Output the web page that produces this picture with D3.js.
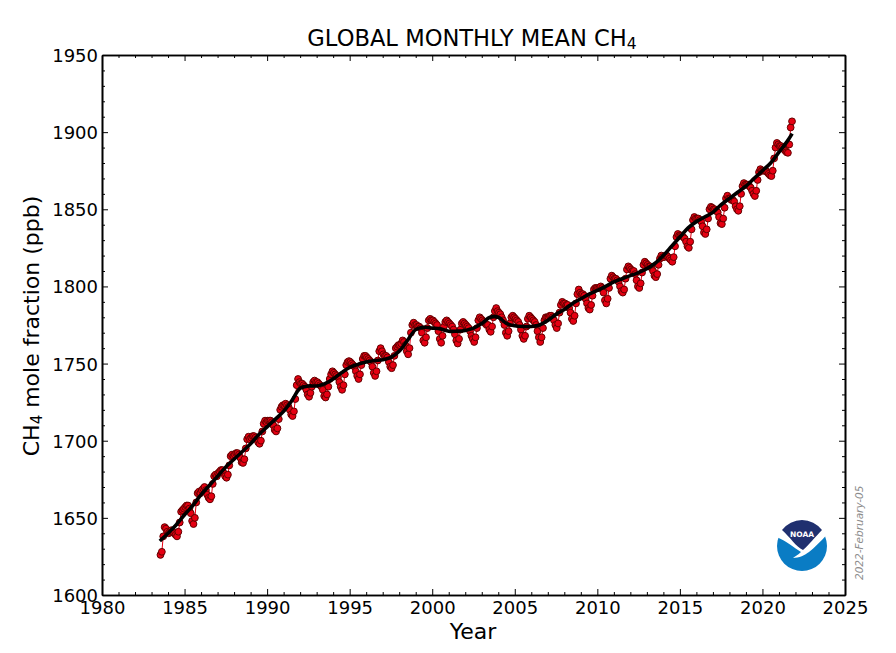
<!DOCTYPE html>
<html>
<head>
<meta charset="utf-8">
<script src="https://cdn.jsdelivr.net/npm/d3@7"></script>
<style>
  html, body { margin: 0; padding: 0; background: #fff; }
  text { font-family: "DejaVu Sans", sans-serif; fill: #000; }
</style>
</head>
<body>
<div id="chart"></div>
<script>
// Monthly values (ppb). 1983 starts in July, 2021 ends in October.
const m1983 = [1626,1628,1638,1644,1643,1641];
const m1984 = [1640,1641,1642,1641,1640,1639,1638,1641,1647,1654,1655,1656];
const m1985 = [1657,1658,1658,1656,1653,1648,1646,1650,1660,1666,1667,1666];
const m1986 = [1668,1669,1670,1668,1665,1663,1662,1664,1672,1677,1678,1677];
const m1987 = [1679,1680,1681,1681,1679,1677,1676,1678,1684,1690,1691,1690];
const m1988 = [1691,1692,1692,1691,1689,1686,1685.6,1688,1695,1701,1702.6,1701];
const m1989 = [1702,1703,1703,1702,1701,1699,1698,1700,1706,1711,1713,1712];
const m1990 = [1713,1713,1713,1712,1710,1707,1706,1708,1714,1720,1722,1723];
const m1991 = [1723,1724,1723,1722,1720,1717,1716,1719,1727,1736,1740,1738];
const m1992 = [1737,1737,1736,1735,1733,1730,1728.5,1731,1735,1738,1739,1738];
const m1993 = [1738,1737,1736,1735,1733,1729,1728,1730,1735,1740,1743,1745];
const m1994 = [1744,1743,1742,1741,1738,1735,1733,1736,1743,1749,1751,1751.6];
const m1995 = [1751,1750,1749,1748,1745,1742,1740,1743,1749,1753,1755,1755];
const m1996 = [1754,1753,1752,1751,1748,1744,1742,1745,1752,1758,1760,1758];
const m1997 = [1756,1755,1755,1754,1751,1748,1747,1749,1755,1760,1761,1762];
const m1998 = [1762,1763,1765,1764,1762,1758,1756,1760,1770,1775,1776.5,1775];
const m1999 = [1775,1774,1774,1773,1770,1765,1763.5,1767,1773,1778,1779,1778];
const m2000 = [1778,1777,1776,1775,1771,1766,1763.5,1768,1774,1777,1778,1777];
const m2001 = [1776,1775,1774,1772,1769,1765,1763,1766,1772,1776,1777,1776];
const m2002 = [1775,1774,1773,1771,1768,1766,1764,1767,1773,1778,1780,1779];
const m2003 = [1778,1777,1776,1775,1775,1772,1770.6,1774,1780,1784,1786,1784];
const m2004 = [1783,1782,1780,1778,1775,1770,1768,1771,1776,1780,1781,1780];
const m2005 = [1779,1778,1777,1775,1772,1768,1766,1768,1774,1779,1781,1780];
const m2006 = [1779,1778,1777,1775,1771,1767,1764,1767,1773,1778,1780,1780];
const m2007 = [1780,1781,1781,1780,1778,1775,1773,1776,1783,1788,1790,1789];
const m2008 = [1789,1788,1788,1786,1783,1779,1777.6,1781,1789,1795,1798,1796];
const m2009 = [1795,1795,1794,1792,1789,1786,1785,1788,1794,1798,1799,1799];
const m2010 = [1799,1799,1800,1799,1796,1791,1789,1792,1799,1805,1807,1806];
const m2011 = [1805,1805,1804,1803,1800,1797,1796,1798,1805,1811,1813,1812];
const m2012 = [1811,1810,1810,1808,1804,1800,1799,1802,1809,1814,1816,1815];
const m2013 = [1814,1813,1813,1812,1810,1807,1806,1808,1814,1818,1820,1819];
const m2014 = [1819,1820,1820,1819,1818,1817,1816,1819,1826,1832,1834,1833];
const m2015 = [1833,1833,1832,1831,1829,1826,1825,1829,1837,1843,1845,1844];
const m2016 = [1844,1844,1843,1842,1839,1835,1834,1837,1844,1850,1851.6,1851];
const m2017 = [1850,1850,1849,1848,1845,1841,1840.4,1844,1851,1857,1858.8,1857];
const m2018 = [1857,1856,1856,1855,1852,1850,1849,1852,1860,1865,1867,1866];
const m2019 = [1866,1866,1865,1864,1862,1860,1858.6,1862,1869,1874,1876,1875];
const m2020 = [1875,1875,1875,1874,1873,1872,1871.5,1875,1883,1890,1893,1892];
const m2021 = [1891,1891,1890,1889,1888,1887,1886.6,1892,1903,1907];

// Smoothed trend, one value every half year from 1983.5, last one at 2021.8
const trendTimes = [1983.5,1984,1984.5,1985,1985.5,1986,1986.5,1987,1987.5,1988,1988.5,1989,1989.5,1990,1990.5,1991,1991.5,1992,1992.5,1993,1993.5,1994,1994.5,1995,1995.5,1996,1996.5,1997,1997.5,1998,1998.5,1999,1999.5,2000,2000.5,2001,2001.5,2002,2002.5,2003,2003.5,2004,2004.5,2005,2005.5,2006,2006.5,2007,2007.5,2008,2008.5,2009,2009.5,2010,2010.5,2011,2011.5,2012,2012.5,2013,2013.5,2014,2014.5,2015,2015.5,2016,2016.5,2017,2017.5,2018,2018.5,2019,2019.5,2020,2020.5,2021,2021.5,2021.8];
const trendValues = [1635,1640,1645.5,1652,1658,1665,1671,1677,1683,1688,1693,1698,1704,1709,1714,1719,1726,1734,1735.5,1735.5,1737,1740,1744,1747.5,1749.5,1751,1752,1752.5,1754,1758,1765,1772,1773.5,1773,1772.5,1771,1771,1771.5,1773,1776,1780,1780,1776,1774.5,1774,1774,1775,1778,1782,1785,1789,1792,1795,1797.5,1800,1803,1805,1807,1809,1811.5,1815,1820,1826,1832,1838,1842,1845,1848,1853,1857,1861,1865,1870,1875,1880,1887,1894,1899];

const xMajor = [1980,1985,1990,1995,2000,2005,2010,2015,2020,2025];
const yMajor = [1600,1650,1700,1750,1800,1850,1900,1950];

const yearRows = [m1983,m1984,m1985,m1986,m1987,m1988,m1989,m1990,m1991,m1992,m1993,m1994,m1995,m1996,m1997,m1998,m1999,m2000,m2001,m2002,m2003,m2004,m2005,m2006,m2007,m2008,m2009,m2010,m2011,m2012,m2013,m2014,m2015,m2016,m2017,m2018,m2019,m2020,m2021];

var monthly = [];
yearRows.forEach(function(row, i) {
  var firstMonth = i == 0 ? 6 : 0;
  row.forEach(function(v, j) {
    monthly.push({t: 1983 + i + (firstMonth + j + 0.5) / 12, v: v});
  });
});
var trend = trendTimes.map(function(t, i) { return {t: t, v: trendValues[i]}; });

//Config
var width = 896, height = 653;
var plotLeft = 102, plotRight = 845, plotTop = 55, plotBottom = 595;

var svg = d3.select("#chart").append("svg")
  .attr("width", width)
  .attr("height", height)
  .style("display", "block");

var x = d3.scaleLinear().domain([1980, 2025]).range([plotLeft, plotRight]);
var y = d3.scaleLinear().domain([1600, 1950]).range([plotBottom, plotTop]);

var line = d3.line()
  .x(function(d) { return x(d.t); })
  .y(function(d) { return y(d.v); });

svg.append("path")
  .datum(monthly)
  .attr("d", line)
  .attr("fill", "none")
  .attr("stroke", "#e60012")
  .attr("stroke-width", 1);

svg.append("g").selectAll("circle")
  .data(monthly)
  .enter()
  .append("circle")
  .attr("cx", function(d) { return x(d.t); })
  .attr("cy", function(d) { return y(d.v); })
  .attr("r", 3.4)
  .attr("fill", "#e60012")
  .attr("stroke", "#640000")
  .attr("stroke-width", 1);

svg.append("path")
  .datum(trend)
  .attr("d", line.curve(d3.curveCatmullRom))
  .attr("fill", "none")
  .attr("stroke", "#000")
  .attr("stroke-width", 3.6);

// ticks point inward on all four sides, so the sizes are negative
var xMinor = d3.range(1980, 2026).filter(function(d) { return d % 5 != 0; });
var yMinor = d3.range(1600, 1951, 10).filter(function(d) { return d % 50 != 0; });

function drawAxis(axis, major, minor, tx, ty, labels) {
  var g = svg.append("g").attr("transform", "translate(" + tx + "," + ty + ")");
  g.append("g").call(axis.tickValues(minor).tickSizeInner(-3).tickSizeOuter(0).tickFormat(""));
  var m = g.append("g").call(axis.tickValues(major).tickSizeInner(-6).tickSizeOuter(0)
    .tickFormat(labels ? d3.format("d") : ""));
  g.selectAll(".domain").attr("stroke", "#000").attr("stroke-width", 1.6);
  g.selectAll(".tick line").attr("stroke", "#000").attr("stroke-width", 1);
  m.selectAll("text").style("font-family", '"DejaVu Sans", sans-serif').style("font-size", "18px");
  return m;
}

var bottomAxis = drawAxis(d3.axisBottom(x), xMajor, xMinor, 0, plotBottom, true);
bottomAxis.selectAll("text").attr("y", 6).attr("dy", "0.71em");
var leftAxis = drawAxis(d3.axisLeft(y), yMajor, yMinor, plotLeft, 0, true);
leftAxis.selectAll("text").attr("x", -4).attr("dy", "0.36em");
drawAxis(d3.axisTop(x), xMajor, xMinor, 0, plotTop, false);
drawAxis(d3.axisRight(y), yMajor, yMinor, plotRight, 0, false);

// titles
var title = svg.append("text")
  .attr("x", 472).attr("y", 46)
  .attr("text-anchor", "middle")
  .style("font-size", "22.6px")
  .text("GLOBAL MONTHLY MEAN CH");
title.append("tspan").attr("dy", 3).style("font-size", "15.5px").text("4");

svg.append("text")
  .attr("x", 473).attr("y", 639)
  .attr("text-anchor", "middle")
  .style("font-size", "22px")
  .text("Year");

var yTitle = svg.append("text")
  .attr("transform", "translate(39,326) rotate(-90)")
  .attr("text-anchor", "middle")
  .style("font-size", "22px")
  .text("CH");
yTitle.append("tspan").attr("dy", 3).style("font-size", "15px").text("4");
yTitle.append("tspan").attr("dy", -3).text(" mole fraction (ppb)");

svg.append("text")
  .attr("transform", "translate(863,580) rotate(-90)")
  .style("font-size", "10.5px")
  .style("font-style", "italic")
  .style("fill", "#8c8c8c")
  .text("2022-February-05");

// NOAA logo
var logo = svg.append("g").attr("transform", "translate(802,546)");
logo.append("circle").attr("r", 25).attr("fill", "#0a7cc4");
logo.append("path")
  .attr("d", "M-25.5,-9 C-15,-5 -8,2 -1,6 C-4,9 -7,10 -9,12 C-3,12 3,9 7,6 C12,2 18,-4 25.5,-12 L25.5,-26 L-25.5,-26 Z")
  .attr("fill", "#fff");
logo.append("path")
  .attr("d", "M-20,-16 A25,25 0 0 1 20,-16 C13,-9 7,-1 1,4 C-6,1 -12,-9 -20,-16 Z")
  .attr("fill", "#20306f");
logo.append("text")
  .attr("y", -9)
  .attr("text-anchor", "middle")
  .style("font-size", "7.5px")
  .style("font-weight", "bold")
  .style("fill", "#fff")
  .text("NOAA");
</script>
</body>
</html>
